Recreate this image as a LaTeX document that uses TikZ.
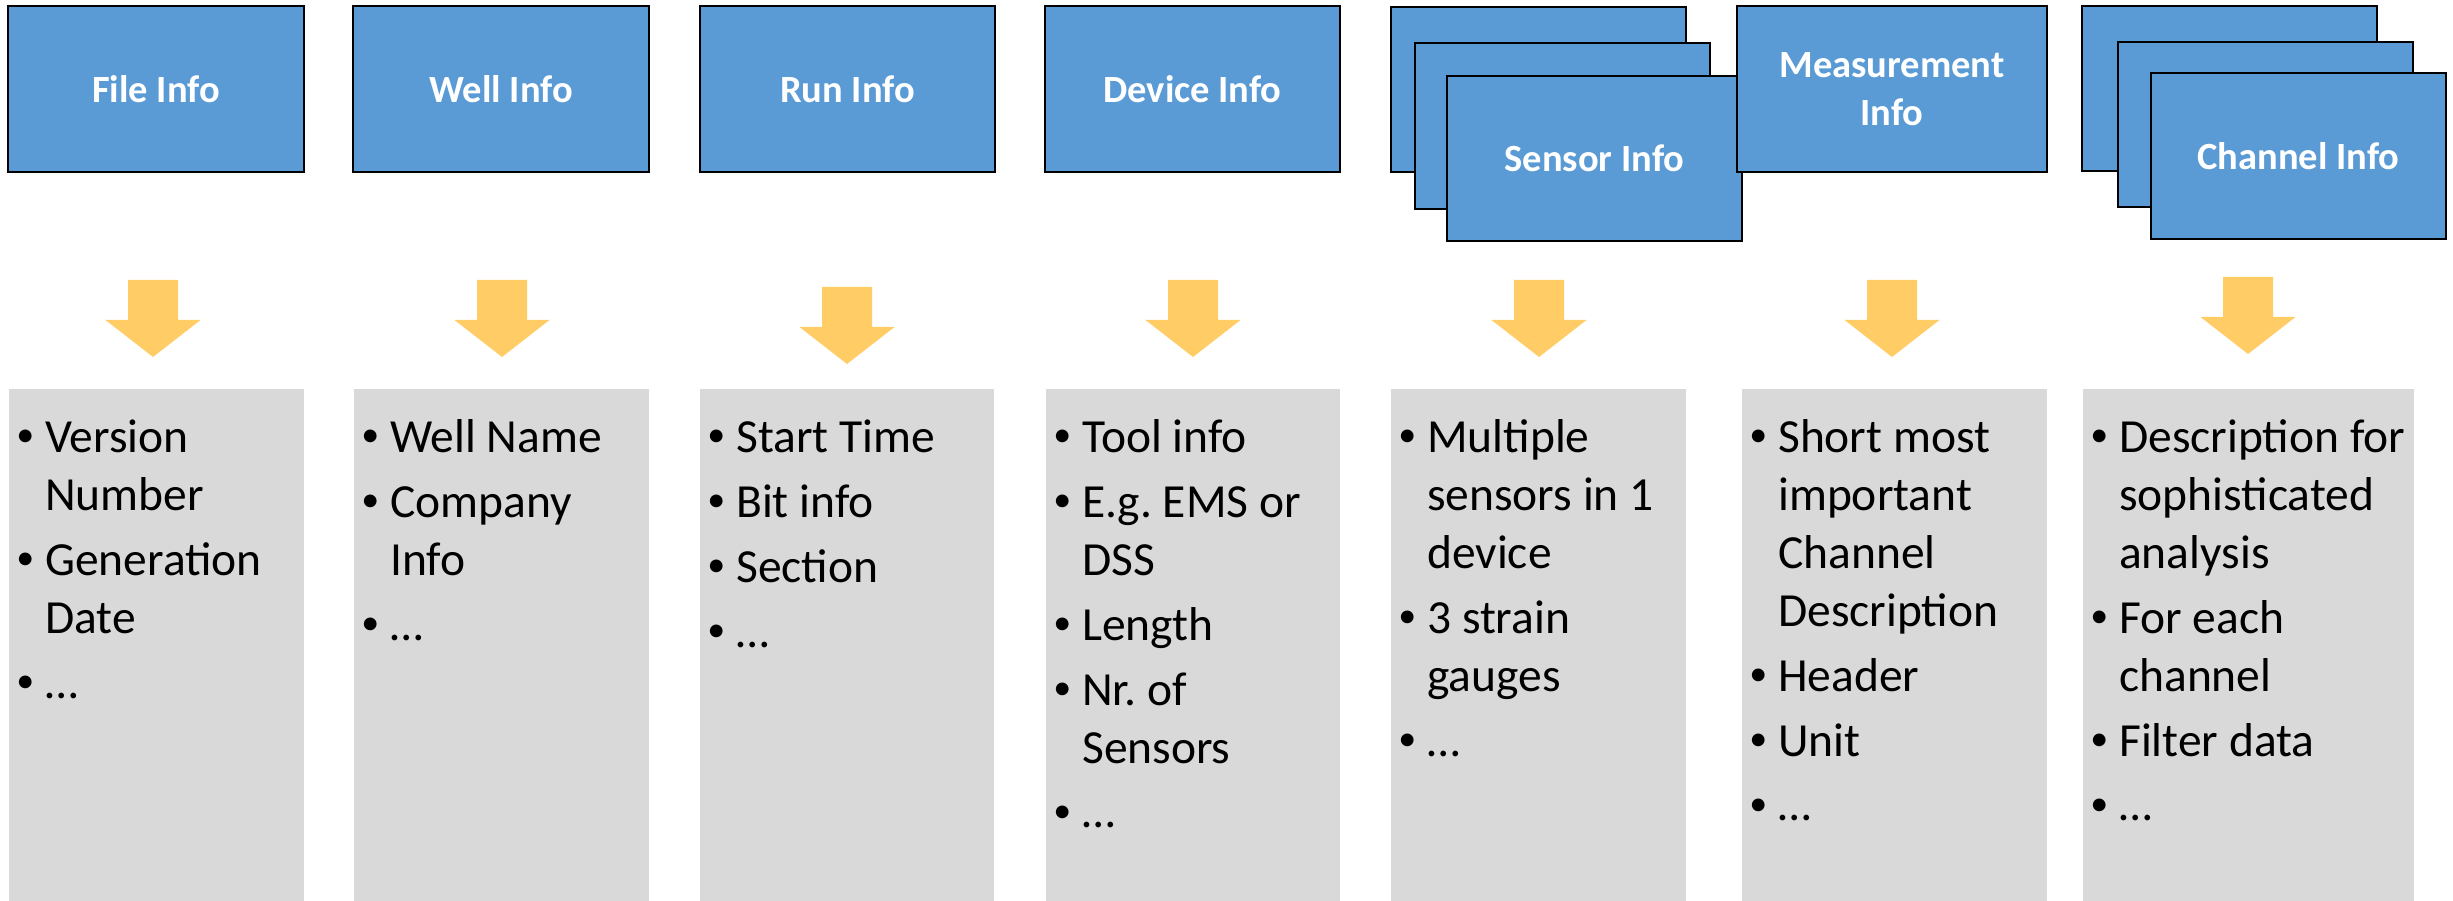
\documentclass[tikz,border=0pt]{standalone}
\usepackage{fontspec}
\setmainfont{Carlito}
\definecolor{boxblue}{HTML}{5B9BD5}
\definecolor{boxgray}{HTML}{D9D9D9}
\definecolor{arrowgold}{HTML}{FFCC66}
\newcommand{\bl}{\leavevmode\llap{\raisebox{6pt}{\fontsize{36}{36}\selectfont\textbullet}\hspace{11pt}}}
\newcommand{\gap}{\\[7pt]}
\newcommand{\lst}[1]{\parbox[t]{400pt}{\raggedright\frenchspacing #1}}
\begin{document}
\begin{tikzpicture}[x=1pt,y=-1pt,
  bluebox/.style={draw=black, line width=2.5pt, fill=boxblue, minimum width=295pt,
    minimum height=166pt, inner sep=0pt, text=white, align=center,
    font=\fontsize{38.5}{48}\selectfont\bfseries},
  graybox/.style={fill=boxgray, draw=none, anchor=north west, minimum height=512pt, inner sep=0pt},
  listtext/.style={anchor=base west, inner sep=0pt, text=black, font=\fontsize{47.5}{58}\selectfont},
  blockarrow/.pic={\fill[arrowgold] (-25,0) -- (25,0) -- (25,40) -- (47.5,40) -- (0,77) -- (-47.5,40) -- (-25,40) -- cycle;}
]
\useasboundingbox (0,0) rectangle (2453,901);

% header boxes
\node[bluebox, minimum width=296pt] (file) at (156,89) {File Info};
\node[bluebox, minimum width=296pt] (well) at (501,89) {Well Info};
\node[bluebox] (run) at (847.5,89) {Run Info};
\node[bluebox] (device) at (1192.5,89) {Device Info};
\node[bluebox, minimum height=165pt] (sensorA) at (1538.5,89.5) {};
\node[bluebox] (sensorB) at (1562.5,126) {};
\node[bluebox, minimum height=165pt] (sensor) at (1594.5,158.5) {Sensor Info};
\node[bluebox, minimum width=310pt] (meas) at (1892,89) {Measurement\\Info};
\node[bluebox, minimum height=165pt] (chanA) at (2229.5,88.5) {};
\node[bluebox, minimum height=165pt] (chanB) at (2265.5,124.5) {};
\node[bluebox] (chan) at (2298.5,156) {Channel Info};

% arrows
\pic (a1) at (153,280) {blockarrow};
\pic (a2) at (502,280) {blockarrow};
\pic (a3) at (847,287) {blockarrow};
\pic (a4) at (1193,280) {blockarrow};
\pic (a5) at (1539,280) {blockarrow};
\pic (a6) at (1892,280) {blockarrow};
\pic (a7) at (2248,277) {blockarrow};

% gray boxes
\node[graybox, minimum width=295pt] (g1) at (9,389) {};
\node[graybox, minimum width=295pt] (g2) at (354,389) {};
\node[graybox, minimum width=294pt] (g3) at (700,389) {};
\node[graybox, minimum width=294pt] (g4) at (1046,389) {};
\node[graybox, minimum width=295pt] (g5) at (1391,389) {};
\node[graybox, minimum width=305pt] (g6) at (1742,389) {};
\node[graybox, minimum width=331pt] (g7) at (2083,389) {};

% lists
\node[listtext] (t1) at (45,452) {\lst{\bl Version\\Number\gap\bl Generation\\Date\gap\bl …}};
\node[listtext] (t2) at (390,452) {\lst{\bl Well Name\gap\bl Company\\Info\gap\bl …}};
\node[listtext] (t3) at (736,452) {\lst{\bl Start Time\gap\bl Bit info\gap\bl Section\gap\bl …}};
\node[listtext] (t4) at (1082,452) {\lst{\bl Tool info\gap\bl E.g. EMS or\\DSS\gap\bl Length\gap\bl Nr. of\\Sensors\gap\bl …}};
\node[listtext] (t5) at (1427,452) {\lst{\bl Multiple\\sensors in 1\\device\gap\bl 3 strain\\gauges\gap\bl …}};
\node[listtext] (t6) at (1778,452) {\lst{\bl Short most\\important\\Channel\\Description\gap\bl Header\gap\bl Unit\gap\bl …}};
\node[listtext] (t7) at (2119,452) {\lst{\bl Description for\\sophisticated\\analysis\gap\bl For each\\channel\gap\bl Filter data\gap\bl …}};
\end{tikzpicture}
\end{document}
